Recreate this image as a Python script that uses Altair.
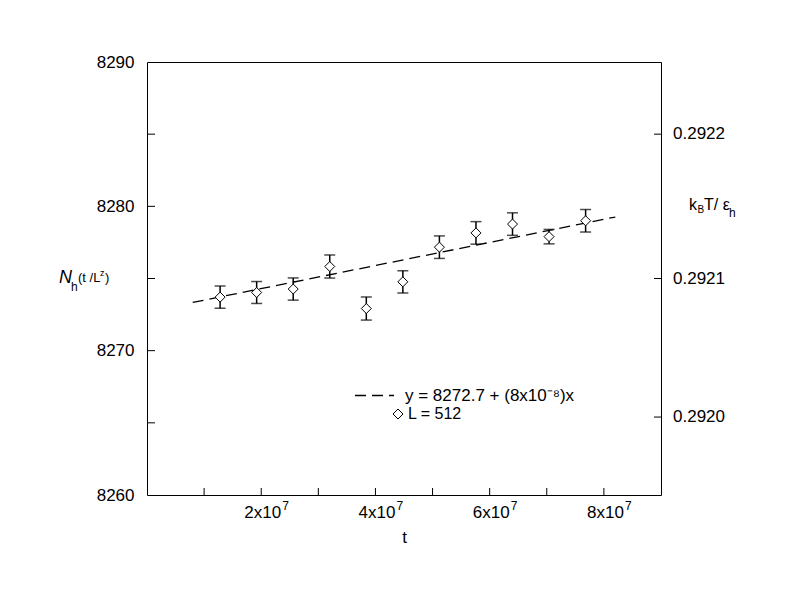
import altair as alt
import pandas as pd

# ---- data ----
t_vals = [1.28e7, 1.92e7, 2.56e7, 3.20e7, 3.84e7, 4.48e7, 5.12e7, 5.76e7, 6.40e7, 7.04e7, 7.68e7]
n_vals = [8273.71, 8274.03, 8274.27, 8275.83, 8272.92, 8274.77, 8277.17, 8278.16, 8278.77, 8277.90, 8279.00]
n_err = [0.77, 0.76, 0.77, 0.80, 0.80, 0.77, 0.78, 0.78, 0.78, 0.50, 0.78]
fit_t = [0.8e7, 8.2e7]
fit_n = [8273.34, 8279.26]
fit_label = "y = 8272.7 + (8x10\u207b\u2078)x"
pts_label = "L = 512"
left_ticks = [8265, 8270, 8275, 8280, 8285]
left_labels = [8260, 8270, 8280, 8290]
bottom_ticks = [1e7, 2e7, 3e7, 4e7, 5e7, 6e7, 7e7, 8e7]
x_label_vals = [2e7, 4e7, 6e7, 8e7]
x_label_mant = ["2x10", "4x10", "6x10", "8x10"]
x_label_exp = ["7", "7", "7", "7"]
right_tick_n = [8285, 8275, 8265.4]
right_tick_labels = ["0.2922", "0.2921", "0.2920"]

W, H = 514, 433
FONT = "Liberation Sans"

xs = alt.Scale(domain=[0, 9e7], nice=False, zero=False)
ys = alt.Scale(domain=[8260, 8290], nice=False, zero=False)

pts = pd.DataFrame({
    "t": t_vals,
    "n": n_vals,
    "lo": [n - e for n, e in zip(n_vals, n_err)],
    "hi": [n + e for n, e in zip(n_vals, n_err)],
    "series": [pts_label] * len(t_vals),
})
fit = pd.DataFrame({"t": fit_t, "n": fit_n, "series": [fit_label] * len(fit_t)})

x_axis = alt.Axis(values=x_label_vals, labels=False,
                  ticks=False, domain=False, grid=False, title="t",
                  titlePadding=34)
y_axis = alt.Axis(values=left_labels, format="d", ticks=False, domain=False,
                  grid=False, title=None, labelPadding=13, labelFlush=False)


def X(f):
    return alt.X(f, scale=xs, axis=x_axis)


def Y(f):
    return alt.Y(f, scale=ys, axis=y_axis)


line = alt.Chart(fit).mark_line(color="black", strokeWidth=1.3).encode(
    x=X("t:Q"),
    y=Y("n:Q"),
    strokeDash=alt.StrokeDash(
        "series:N",
        scale=alt.Scale(domain=[fit_label], range=[[11, 6]]),
        legend=alt.Legend(orient="none", legendX=207, legendY=313, title=None,
                          symbolType="stroke", symbolSize=1521,
                          symbolStrokeWidth=1.3, symbolStrokeColor="black",
                          labelOffset=10, labelFontSize=17, labelLimit=500, padding=0),
    ),
)

bars = alt.Chart(pts).mark_rule(color="black", strokeWidth=1.5).encode(
    x=X("t:Q"), y=Y("lo:Q"), y2="hi:Q",
)
cap_lo = alt.Chart(pts).mark_tick(orient="horizontal", size=11, thickness=1.5, color="black").encode(
    x=X("t:Q"), y=Y("lo:Q"),
)
cap_hi = alt.Chart(pts).mark_tick(orient="horizontal", size=11, thickness=1.5, color="black").encode(
    x=X("t:Q"), y=Y("hi:Q"),
)
points = alt.Chart(pts).mark_point(shape="diamond", filled=False, fill="white",
                                   strokeWidth=1, size=100, opacity=1, fillOpacity=1).encode(
    x=X("t:Q"),
    y=Y("n:Q"),
    color=alt.Color(
        "series:N",
        scale=alt.Scale(domain=[pts_label], range=["black"]),
        legend=alt.Legend(orient="none", legendX=243, legendY=344, title=None,
                          symbolType="diamond", symbolSize=100,
                          symbolFillColor="white", symbolStrokeWidth=1,
                          labelOffset=2, labelFontSize=16, labelLimit=500, padding=0),
    ),
)

# inward ticks
lt = alt.Chart(pd.DataFrame({"v": left_ticks})).mark_rule(color="black").encode(
    y=Y("v:Q"), x=alt.value(0), x2=alt.value(8))
bt = alt.Chart(pd.DataFrame({"v": bottom_ticks})).mark_rule(color="black").encode(
    x=X("v:Q"), y=alt.value(H), y2=alt.value(H - 7))
rdf = pd.DataFrame({"v": right_tick_n, "label": right_tick_labels})
rt = alt.Chart(rdf).mark_rule(color="black").encode(
    y=Y("v:Q"), x=alt.value(W), x2=alt.value(W - 7))
rl = alt.Chart(rdf).mark_text(align="left", baseline="middle", fontSize=17, font=FONT,
                              color="black").encode(
    y=Y("v:Q"), x=alt.value(W + 12), text="label:N")

# x tick labels with real superscripts
xdf = pd.DataFrame({"v": x_label_vals, "m": x_label_mant, "e": x_label_exp})
xl_m = alt.Chart(xdf).mark_text(align="right", baseline="alphabetic", fontSize=17, font=FONT,
                                color="black", dx=20).encode(
    x=X("v:Q"), y=alt.value(H + 23), text="m:N")
xl_e = alt.Chart(xdf).mark_text(align="left", baseline="alphabetic", fontSize=12, font=FONT,
                                color="black", dx=21).encode(
    x=X("v:Q"), y=alt.value(H + 15), text="e:N")


def piece(txt, x, y, size, style="normal"):
    return alt.Chart(pd.DataFrame({"s": [txt]})).mark_text(
        align="left", baseline="alphabetic", fontSize=size, font=FONT,
        fontStyle=style, color="black").encode(
        x=alt.value(x), y=alt.value(y), text="s:N")


titles = [
    piece("N", -88, 221, 18, "italic"),
    piece("h", -76, 229, 12),
    piece("(t /L", -69, 220, 13),
    piece("z", -47, 214, 9),
    piece(")", -42, 220, 13),
    piece("k", 542, 148, 16),
    piece("B", 550.5, 151, 10),
    piece("T/ \u03b5", 557, 148, 16),
    piece("h", 582, 155, 12),
]

chart = alt.layer(line, bars, cap_lo, cap_hi, points, lt, bt, rt, rl, xl_m, xl_e, *titles).resolve_scale(
    color="independent", strokeDash="independent"
).properties(
    width=W, height=H,
    autosize=alt.AutoSizeParams(type="none"),
    padding={"left": 139, "top": 54, "right": 123, "bottom": 102},
    background="white",
).configure_view(stroke="black", strokeWidth=1).configure_axis(
    labelFont=FONT, titleFont=FONT, labelFontSize=17, titleFontSize=17,
    titleFontWeight="normal", labelColor="black", titleColor="black",
).configure_legend(labelFont=FONT, labelColor="black")

chart.save("out.html", embed_options={"renderer": "svg", "actions": False})
